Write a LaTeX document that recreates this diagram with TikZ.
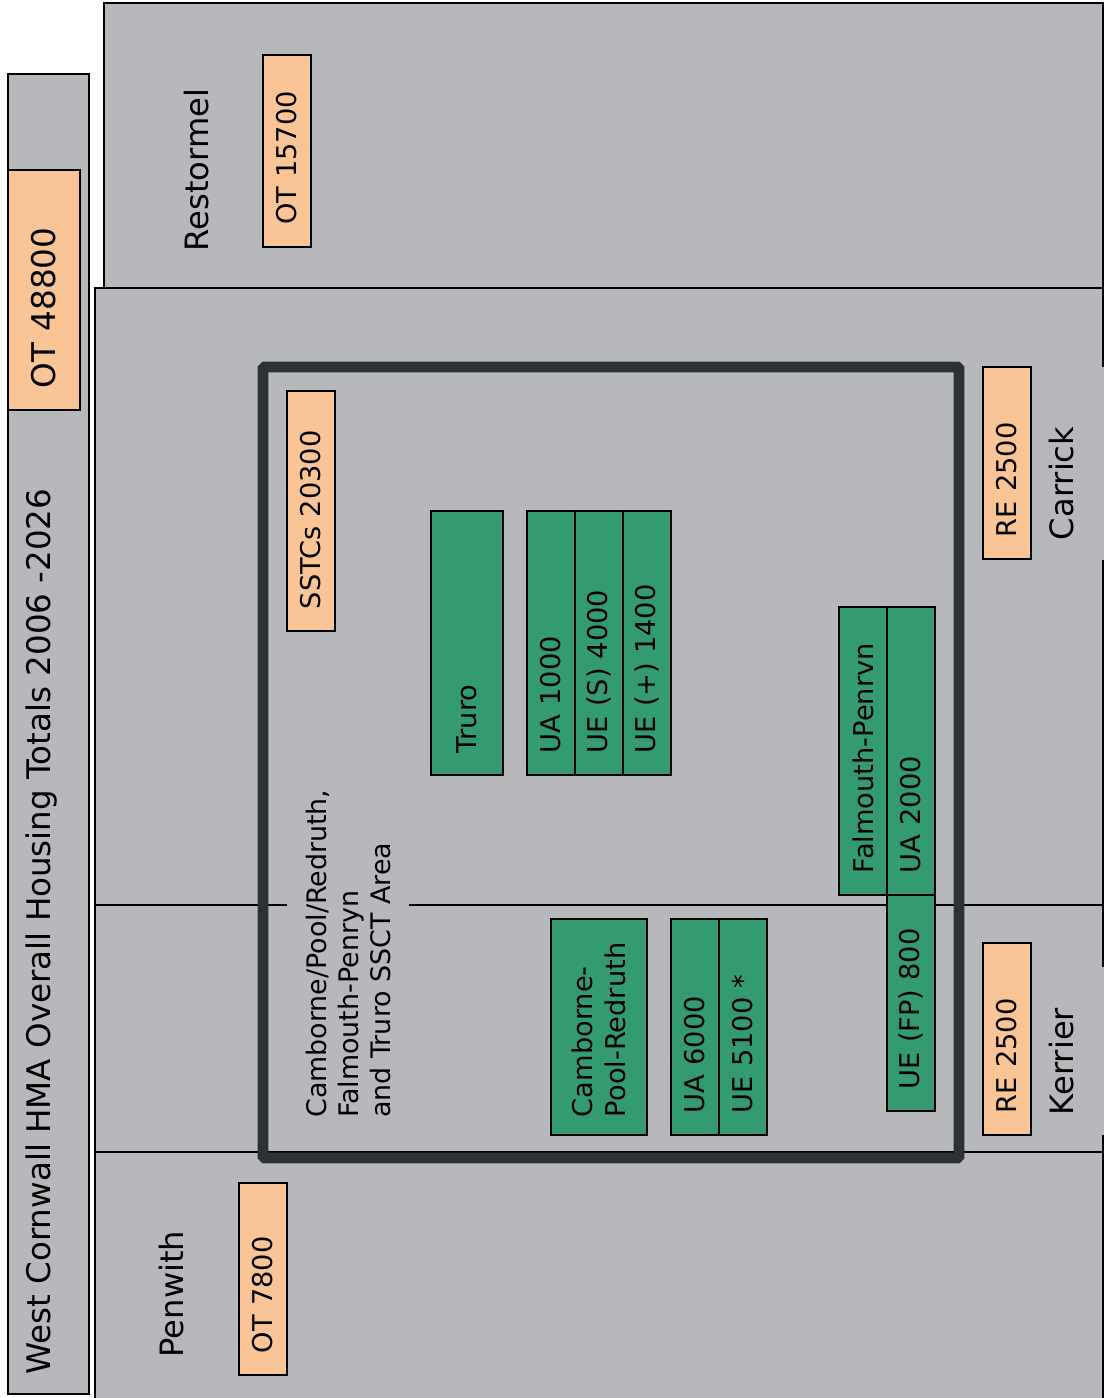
\documentclass[tikz,border=0pt]{standalone}
\usepackage{fontspec}
\setmainfont{DejaVu Sans}
\usepackage{tikz}
\definecolor{regionGrey}{HTML}{B7B8BC}
\definecolor{totalOrange}{HTML}{FAC596}
\definecolor{townGreen}{HTML}{339B6F}
\definecolor{frameDark}{HTML}{2E3134}
\newcommand{\pxlen}{0.02cm}
\tikzset{
  region/.style={draw=black,fill=regionGrey,line width=1.1pt},
  totalbox/.style={draw=black,fill=totalOrange,line width=0.9pt,rotate=90,align=left,
    inner ysep=0pt,inner xsep=22*\pxlen,font=\fontsize{15.5}{18.6}\selectfont},
  townbox/.style={draw=black,fill=townGreen,line width=0.9pt,rotate=90,align=left,
    inner ysep=0pt,inner xsep=22*\pxlen,font=\fontsize{15.5}{18.6}\selectfont},
  areaname/.style={rotate=90,inner sep=0pt,font=\fontsize{18.3}{22}\selectfont},
}

\begin{document}
\begin{tikzpicture}[x=0.02cm,y=-0.02cm]
\useasboundingbox (0,0) rectangle (1104,1398);
% Districts
\draw[region] (8,74) rectangle (89,1394);
\draw[region] (104,3) rectangle (1103,290);
\draw[region] (95,288) rectangle (1103,905);
\draw[region] (95,905) rectangle (1103,1152);
\draw[region] (95,1152) rectangle (1103,1402);
% SSCT area frame
\draw[frameDark,line width=6.2pt,rounded corners=1pt] (263,367) rectangle (959,1158);
% District names
\node[areaname,anchor=base west,font=\fontsize{18.5}{22}\selectfont] (title) at (50,1375)
  {West Cornwall HMA Overall Housing Totals 2006 -2026};
\node[areaname] (restormel) at (197,170) {Restormel};
\node[areaname] (penwith) at (172,1294) {Penwith};
\node[areaname,fill=regionGrey,align=left,text width=153*\pxlen,inner xsep=20*\pxlen,
  minimum height=90*\pxlen] (carrick) at (1061,463.5) {Carrick};
\node[areaname,fill=regionGrey,align=left,text width=128*\pxlen,inner xsep=20*\pxlen,
  minimum height=90*\pxlen] (kerrier) at (1061,1051) {Kerrier};
\node[areaname,fill=regionGrey,align=left,anchor=west,inner ysep=19*\pxlen,
  font=\fontsize{15.3}{18.2}\selectfont] (ssct) at (348,1118)
  {Camborne/Pool/Redruth,\\Falmouth-Penryn\\and Truro SSCT Area};
% Overall totals
\node[totalbox,text width=196*\pxlen,minimum height=72*\pxlen,
  font=\fontsize{18.6}{22}\selectfont] (otWest) at (44,290) {OT 48800};
\node[totalbox,text width=148*\pxlen,minimum height=48*\pxlen] (otRestormel) at (287,151) {OT 15700};
\node[totalbox,text width=196*\pxlen,minimum height=48*\pxlen] (sstcTotal) at (311,511) {SSTCs 20300};
\node[totalbox,text width=148*\pxlen,minimum height=48*\pxlen] (reCarrick) at (1007,463) {RE 2500};
\node[totalbox,text width=148*\pxlen,minimum height=48*\pxlen] (reKerrier) at (1007,1039) {RE 2500};
\node[totalbox,text width=148*\pxlen,minimum height=48*\pxlen] (otPenwith) at (263,1279) {OT 7800};
% Truro
\node[townbox,text width=220*\pxlen,minimum height=72*\pxlen] (truro) at (467,643) {Truro};
\node[townbox,text width=220*\pxlen,minimum height=48*\pxlen] (truroUA) at (551,643) {UA 1000};
\node[townbox,text width=220*\pxlen,minimum height=48*\pxlen] (truroUEs) at (599,643) {UE (S) 4000};
\node[townbox,text width=220*\pxlen,minimum height=48*\pxlen] (truroUEp) at (647,643) {UE (+) 1400};
% Camborne-Pool-Redruth
\node[townbox,text width=180*\pxlen,inner xsep=18*\pxlen,minimum height=96*\pxlen] (cpr) at (599,1027)
  {Camborne-\\\mbox{Pool-Redruth}};
\node[townbox,text width=172*\pxlen,minimum height=48*\pxlen] (cprUA) at (695,1027) {UA 6000};
\node[townbox,text width=172*\pxlen,minimum height=48*\pxlen] (cprUE) at (743,1027) {UE 5100 *};
% Falmouth-Penryn
\node[townbox,text width=244*\pxlen,minimum height=48*\pxlen] (falmouth) at (863,751) {Falmouth-Penrvn};
\node[townbox,text width=244*\pxlen,minimum height=48*\pxlen] (falmouthUA) at (911,751) {UA 2000};
\node[townbox,text width=172*\pxlen,minimum height=48*\pxlen] (falmouthUE) at (911,1003) {UE (FP) 800};
\end{tikzpicture}
\end{document}
